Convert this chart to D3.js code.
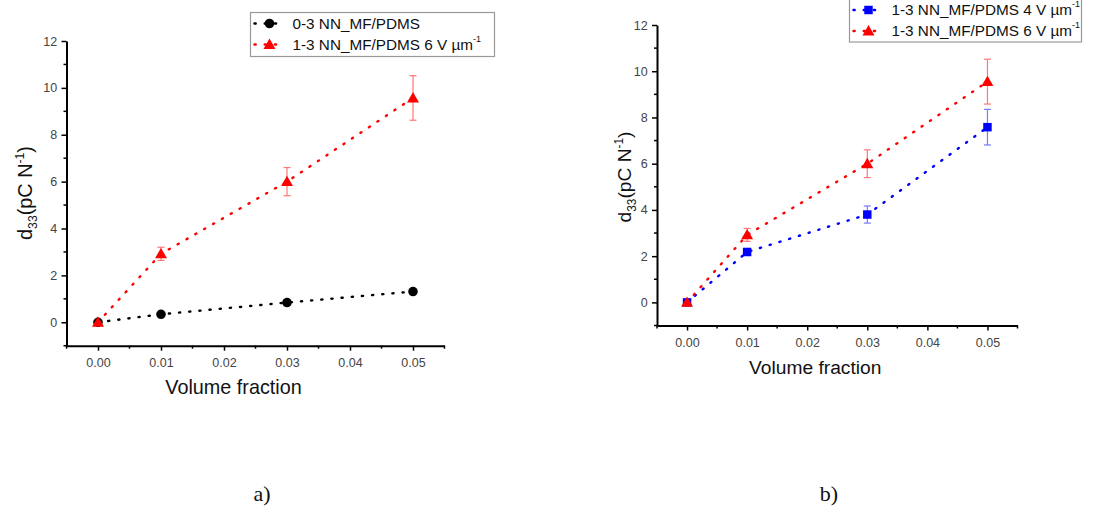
<!DOCTYPE html>
<html><head><meta charset="utf-8">
<script src="https://cdn.jsdelivr.net/npm/d3@7"></script>
<style>
body{margin:0;background:#fff;}
svg{display:block;}
</style></head>
<body>
<svg id="chart" width="1099" height="514" font-family="Liberation Sans, Arial, sans-serif"></svg>
<script>
// ---- data ----
const volumeFractions = [0.00, 0.01, 0.03, 0.05];
const xTicks = [0.00, 0.01, 0.02, 0.03, 0.04, 0.05];
const yTicks = [0, 2, 4, 6, 8, 10, 12];

const a_black = [0, 0.34, 0.84, 1.31];           // 0-3 NN_MF/PDMS
const a_red = [0, 2.92, 6.0, 9.57];               // 1-3 NN_MF/PDMS 6 V/um
const a_redErr = [0, 0.28, 0.6, 0.95];

const b_blue = [0, 2.18, 3.8, 7.58];              // 1-3 NN_MF/PDMS 4 V/um
const b_blueErr = [0, 0.15, 0.37, 0.77];
const b_red = [0, 2.92, 6.0, 9.55];               // 1-3 NN_MF/PDMS 6 V/um
const b_redErr = [0, 0.28, 0.6, 0.97];

const legendA = ["0-3 NN_MF/PDMS", "1-3 NN_MF/PDMS 6 V µm"];
const legendB = ["1-3 NN_MF/PDMS 4 V µm", "1-3 NN_MF/PDMS 6 V µm"];
const superscripts = ["", "-1"];
const captions = ["a)", "b)"];

const svg = d3.select("#chart");

function markerPath(shape, size){
  if(shape==="circle") return d3.symbol(d3.symbolCircle, size)();
  if(shape==="triangle") return d3.symbol(d3.symbolTriangle, size)();
  return d3.symbol(d3.symbolSquare, size)();
}

function drawPanel(cfg){
  const g = svg.append("g");
  const x = d3.scaleLinear().domain([-0.005, 0.055]).range([cfg.left, cfg.right]);
  const y = d3.scaleLinear().domain([-1, 12]).range([cfg.bottom, cfg.top]);

  const xMinor = d3.range(-0.005, 0.0551, 0.005).filter(v => Math.abs(Math.round(v*100) - v*100) > 1e-6);
  const yMinor = d3.range(-1, 12, 2);

  const xAxis = d3.axisBottom(x).tickValues(xTicks).tickFormat(d3.format(".2f")).tickSize(5).tickSizeOuter(0);
  const yAxis = d3.axisLeft(y).tickValues(yTicks).tickFormat(d3.format("d")).tickSize(5).tickSizeOuter(0);

  const gx = g.append("g").attr("transform", `translate(0,${cfg.bottom})`).call(xAxis);
  const gy = g.append("g").attr("transform", `translate(${cfg.left},0)`).call(yAxis);
  [gx, gy].forEach(ax => {
    ax.attr("font-family", null).attr("font-size", null);
    ax.select(".domain").attr("stroke", "#000").attr("stroke-width", 2);
    ax.selectAll(".tick line").attr("stroke", "#000").attr("stroke-width", 1.5);
    ax.selectAll(".tick text").attr("font-size", 12.5).attr("fill", "#444");
  });
  gx.selectAll(".tick text").attr("dy", "1.1em");
  gy.selectAll(".tick text").attr("dx", "-0.1em");

  g.append("g").selectAll("line").data(xMinor).join("line")
    .attr("x1", d => x(d)).attr("x2", d => x(d))
    .attr("y1", cfg.bottom).attr("y2", cfg.bottom + 3)
    .attr("stroke", "#000").attr("stroke-width", 1.5);
  g.append("g").selectAll("line").data(yMinor).join("line")
    .attr("x1", cfg.left).attr("x2", cfg.left - 3)
    .attr("y1", d => y(d)).attr("y2", d => y(d))
    .attr("stroke", "#000").attr("stroke-width", 1.5);

  // axis titles
  g.append("text").attr("x", x(0.025) - 22).attr("y", cfg.bottom + 48)
    .attr("text-anchor", "middle").attr("font-size", cfg.titleSize).attr("fill", "#111")
    .text("Volume fraction");
  const yl = g.append("text")
    .attr("transform", `translate(${cfg.ylabelX},${cfg.ylabelY}) rotate(-90)`)
    .attr("text-anchor", "middle").attr("font-size", cfg.titleSize).attr("fill", "#111");
  yl.append("tspan").text("d");
  yl.append("tspan").attr("font-size", cfg.titleSize * 0.62).attr("dy", 5).text("33");
  yl.append("tspan").attr("dy", -5).text("(pC N");
  yl.append("tspan").attr("font-size", cfg.titleSize * 0.62).attr("dy", -8).text("-1");
  yl.append("tspan").attr("dy", 8).text(")");

  // series
  cfg.series.forEach(s => {
    const pts = volumeFractions.map((v, i) => ({x: v, y: s.values[i], e: s.err ? s.err[i] : 0}));
    g.append("path").datum(pts)
      .attr("d", d3.line().x(d => x(d.x)).y(d => y(d.y)))
      .attr("fill", "none").attr("stroke", s.color).attr("stroke-width", 2.4)
      .attr("stroke-linecap", "round").attr("stroke-dasharray", "1.2,9");
    if (s.err) {
      const eg = g.append("g").attr("stroke", s.errColor).attr("stroke-width", 1.2);
      pts.filter(d => d.e > 0).forEach(d => {
        eg.append("line").attr("x1", x(d.x)).attr("x2", x(d.x)).attr("y1", y(d.y + d.e)).attr("y2", y(d.y - d.e));
        eg.append("line").attr("x1", x(d.x) - 3.5).attr("x2", x(d.x) + 3.5).attr("y1", y(d.y + d.e)).attr("y2", y(d.y + d.e));
        eg.append("line").attr("x1", x(d.x) - 3.5).attr("x2", x(d.x) + 3.5).attr("y1", y(d.y - d.e)).attr("y2", y(d.y - d.e));
      });
    }
    g.append("g").selectAll("path").data(pts).join("path")
      .attr("d", markerPath(s.shape, s.size))
      .attr("transform", d => `translate(${x(d.x)},${y(d.y) + (s.shape === "triangle" ? 1 : 0)})`)
      .attr("fill", s.color);
  });

  // legend
  const L = cfg.legend;
  g.append("rect").attr("x", L.x).attr("y", L.y).attr("width", L.w).attr("height", L.h)
    .attr("fill", "#fff").attr("stroke", "#999").attr("stroke-width", 1.2);
  cfg.series.forEach((s, i) => {
    const ry = L.rowY[i];
    g.append("line").attr("x1", L.x + 4).attr("x2", L.x + 34).attr("y1", ry).attr("y2", ry)
      .attr("stroke", s.color).attr("stroke-width", 2.4).attr("stroke-linecap", "round")
      .attr("stroke-dasharray", "1.2,9");
    g.append("path").attr("d", markerPath(s.shape, s.size))
      .attr("transform", `translate(${L.x + 19},${ry + (s.shape === "triangle" ? 1 : 0)})`).attr("fill", s.color);
    const t = g.append("text").attr("x", L.x + 42).attr("y", ry + 5).attr("font-size", 15.3).attr("fill", "#111");
    t.append("tspan").text(L.labels[i]);
    if (L.sup[i]) t.append("tspan").attr("font-size", 9).attr("dy", -8).text(L.sup[i]);
  });

  svg.append("text").attr("x", cfg.capX).attr("y", 501).attr("text-anchor", "middle")
    .attr("font-family", "Liberation Serif, DejaVu Serif, serif").attr("font-size", 22).attr("fill", "#111")
    .text(cfg.caption);
}

drawPanel({
  left: 66.5, right: 444.5, top: 41, bottom: 345.7,
  titleSize: 19.8, ylabelX: 32, ylabelY: 193,
  caption: captions[0], capX: 262,
  series: [
    {values: a_black, color: "#000", shape: "circle", size: 72},
    {values: a_red, err: a_redErr, color: "#f00", errColor: "#f77", shape: "triangle", size: 62}
  ],
  legend: {x: 250.5, y: 12.5, w: 244, h: 44, rowY: [23.5, 44.5], labels: legendA, sup: superscripts}
});

drawPanel({
  left: 657, right: 1017.5, top: 25, bottom: 325.5,
  titleSize: 19.2, ylabelX: 631, ylabelY: 177,
  caption: captions[1], capX: 829,
  series: [
    {values: b_blue, err: b_blueErr, color: "#00f", errColor: "#77f", shape: "square", size: 72},
    {values: b_red, err: b_redErr, color: "#f00", errColor: "#f77", shape: "triangle", size: 62}
  ],
  legend: {x: 849.5, y: -3, w: 232, h: 45, rowY: [10, 31], labels: legendB, sup: ["-1", "-1"]}
});
</script>
</body></html>
